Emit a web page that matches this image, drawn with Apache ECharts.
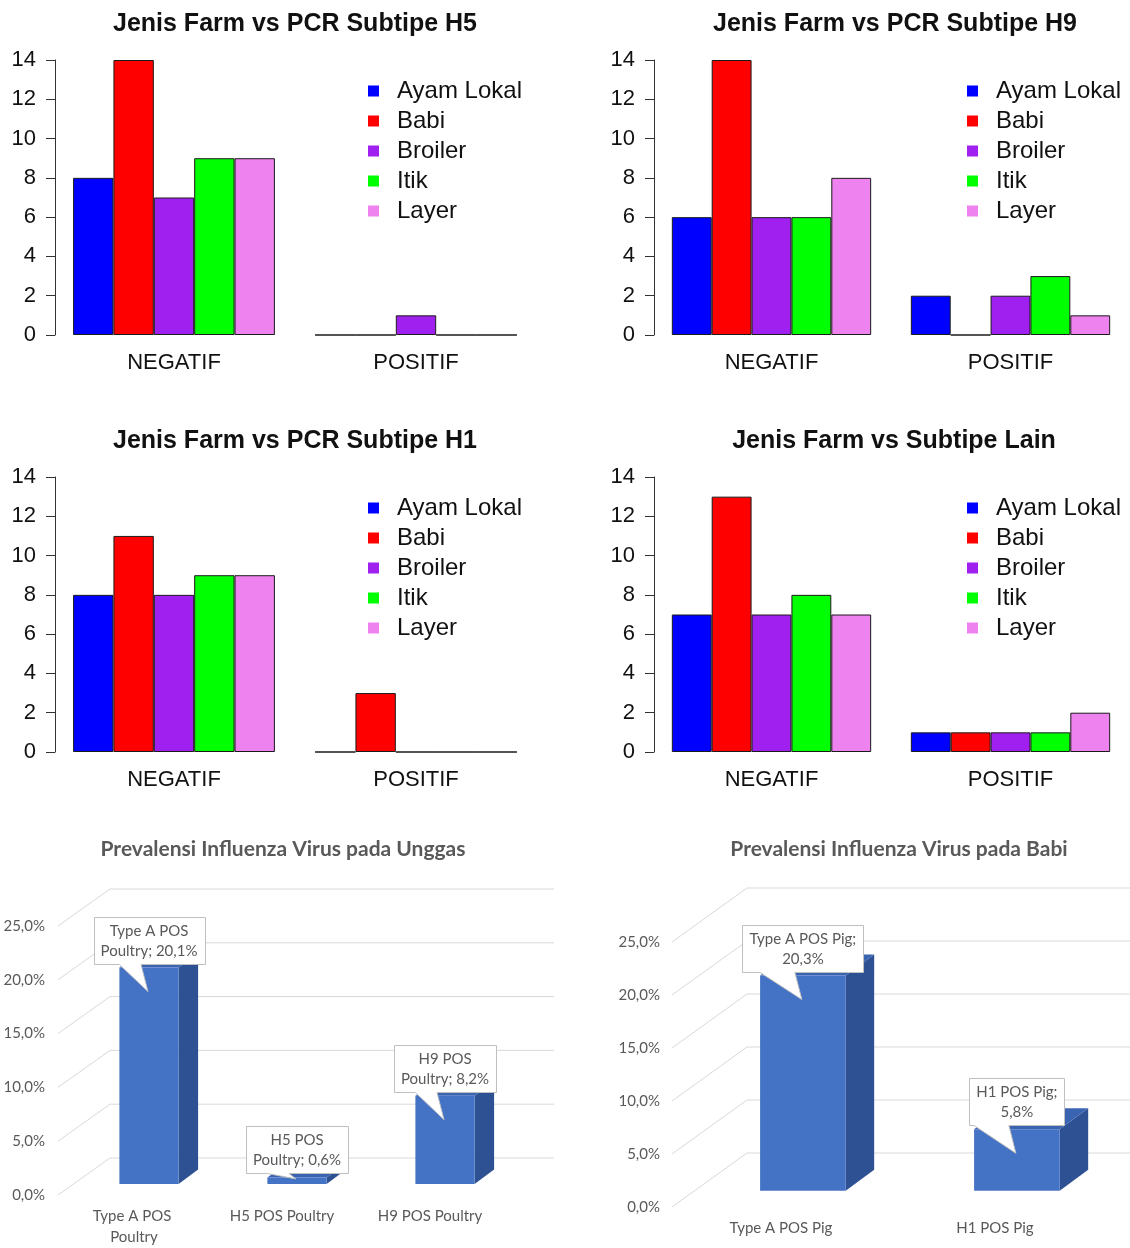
<!DOCTYPE html>
<html>
<head>
<meta charset="utf-8">
<script src="https://cdn.jsdelivr.net/npm/echarts@6/dist/echarts.min.js"></script>
<style>
  html, body { margin: 0; padding: 0; background: #ffffff; }
  #main { width: 1130px; height: 1248px; }
</style>
</head>
<body>
<div id="main"></div>
<script>
// ---- Farm type vs PCR result counts ----
const farmTypes = ['Ayam Lokal', 'Babi', 'Broiler', 'Itik', 'Layer'];
const farmColors = ['#0000FF', '#FF0000', '#A020F0', '#00FF00', '#EE82EE'];
const pcrResults = ['NEGATIF', 'POSITIF'];
const countTicks = [0, 2, 4, 6, 8, 10, 12, 14];

const h5Negatif = [8, 14, 7, 9, 9];
const h5Positif = [0, 0, 1, 0, 0];
const h9Negatif = [6, 14, 6, 6, 8];
const h9Positif = [2, 0, 2, 3, 1];
const h1Negatif = [8, 11, 8, 9, 9];
const h1Positif = [0, 3, 0, 0, 0];
const lainNegatif = [7, 13, 7, 8, 7];
const lainPositif = [1, 1, 1, 1, 2];

// ---- Influenza prevalence (%) ----
const poultryCategories = ['Type A POS Poultry', 'H5 POS Poultry', 'H9 POS Poultry'];
const poultryCallouts = ['Type A POS\nPoultry', 'H5 POS\nPoultry', 'H9 POS\nPoultry'];
const poultryPrevalence = [20.1, 0.6, 8.2];
const pigCategories = ['Type A POS Pig', 'H1 POS Pig'];
const pigCallouts = ['Type A POS Pig', 'H1 POS Pig'];
const pigPrevalence = [20.3, 5.8];
const prevalenceTicks = [0, 5, 10, 15, 20, 25];

const R_FONT = '"Liberation Sans", Arial, sans-serif';
const XL_FONT = 'Lato, "Liberation Sans", sans-serif';
const XL_GREY = '#595959';

const pct = v => v.toFixed(1).replace('.', ',') + '%';

const measureCtx = document.createElement('canvas').getContext('2d');
function textWidth(s, font) { measureCtx.font = font; return measureCtx.measureText(s).width; }

const chart = echarts.init(document.getElementById('main'), null, { renderer: 'canvas' });

const grids = [], xAxes = [], yAxes = [], series = [], titles = [], legends = [];

// ---------- grouped bar panels ----------
function farmPanel(title, negatif, positif, left, top, titleX) {
  const idx = grids.length;
  grids.push({ left: left, top: top, width: 484, height: 275 });
  xAxes.push({
    gridIndex: idx, type: 'category', data: pcrResults,
    axisLine: { show: false }, axisTick: { show: false },
    axisLabel: { fontFamily: R_FONT, fontSize: 22, color: '#111', margin: 17 }
  });
  yAxes.push({
    gridIndex: idx, type: 'value', min: countTicks[0], max: countTicks[countTicks.length - 1], interval: 2,
    offset: -2,
    axisLine: { show: true, lineStyle: { color: '#333', width: 1 } },
    axisTick: { show: true, length: 9, lineStyle: { color: '#333', width: 1 } },
    axisLabel: { fontFamily: R_FONT, fontSize: 22, color: '#111', margin: 19 },
    splitLine: { show: false }
  });
  farmTypes.forEach((name, i) => {
    series.push({
      type: 'bar', name: name, xAxisIndex: idx, yAxisIndex: idx,
      data: [negatif[i], positif[i]],
      barGap: '0%', barCategoryGap: '16.6%',
      itemStyle: { color: farmColors[i], borderColor: '#1a1a1a', borderWidth: 1 },
      emphasis: { disabled: true }, animation: false
    });
  });
  titles.push({
    text: title, left: titleX, top: top - 48, textAlign: 'center', padding: 0,
    textStyle: { fontFamily: R_FONT, fontSize: 25, fontWeight: 'bold', color: '#111' }
  });
  legends.push({
    data: farmTypes, orient: 'vertical', left: left + 310, top: top + 11,
    icon: 'rect', itemWidth: 11, itemHeight: 11, itemGap: 0, selectedMode: false,
    itemStyle: { borderWidth: 0 },
    textStyle: { fontFamily: R_FONT, fontSize: 24, color: '#111', lineHeight: 30, padding: [0, 0, 0, 13] }
  });
}

farmPanel('Jenis Farm vs PCR Subtipe H5', h5Negatif, h5Positif, 53, 60, 295);
farmPanel('Jenis Farm vs PCR Subtipe H9', h9Negatif, h9Positif, 652, 60, 895);
farmPanel('Jenis Farm vs PCR Subtipe H1', h1Negatif, h1Positif, 53, 477, 295);
farmPanel('Jenis Farm vs Subtipe Lain', lainNegatif, lainPositif, 652, 477, 894);

// ---------- 3D column panels ----------
const FRONT_T = 0.3;     // depth of the column front faces
const DEPTH_T = 0.39;    // column depth
const BAR_RATIO = 0.4;   // column width relative to category band
const CALLOUT_FONT = '15px ' + XL_FONT;
const CALLOUT_LINE = 20;

function columnPanel(title, categories, values, callouts, sep, opts) {
  const idx = grids.length;
  const depth = opts.depth;
  grids.push({ left: opts.left, top: opts.top, width: opts.width, height: opts.height });
  xAxes.push({
    gridIndex: idx, type: 'category', data: categories,
    axisLine: { show: false }, axisTick: { show: false },
    axisLabel: {
      fontFamily: XL_FONT, fontSize: 15, color: XL_GREY, margin: 11,
      width: 112, overflow: 'break', lineHeight: 21, interval: 0
    }
  });
  yAxes.push({
    gridIndex: idx, type: 'value', min: 0, max: 25, interval: 5,
    axisLine: { show: false }, axisTick: { show: false }, splitLine: { show: false },
    axisLabel: { fontFamily: XL_FONT, fontSize: 15, color: XL_GREY, margin: opts.labelMargin, formatter: v => pct(v) }
  });

  // floor / back-wall gridlines
  series.push({
    type: 'custom', xAxisIndex: idx, yAxisIndex: idx, z: 1, silent: true, animation: false,
    data: prevalenceTicks.map(v => [0, v]), encode: { x: 0, y: 1 },
    renderItem(params, api) {
      const y = api.coord([0, api.value(1)])[1];
      const cs = params.coordSys;
      return {
        type: 'polyline',
        shape: { points: [[cs.x - 2, y], [cs.x + depth.dx, y - depth.dy], [cs.x + cs.width + depth.dx, y - depth.dy]] },
        style: { stroke: '#d9d9d9', lineWidth: 1, fill: null }
      };
    }
  });

  function geom(api) {
    const i = api.value(0), v = api.value(1);
    const base = api.coord([i, 0]);
    const top = api.coord([i, v]);
    const w = api.size([1, 0])[0] * BAR_RATIO;
    const xl = base[0] - w / 2 + depth.dx * FRONT_T;
    const yb = base[1] - depth.dy * FRONT_T;
    const yt = top[1] - depth.dy * FRONT_T;
    return { xl, xr: xl + w, yb, yt, w, v, i };
  }

  // columns
  series.push({
    type: 'custom', xAxisIndex: idx, yAxisIndex: idx, z: 3, silent: true, animation: false,
    data: values.map((v, i) => [i, v]), encode: { x: 0, y: 1 },
    renderItem(params, api) {
      const g = geom(api);
      const ex = depth.dx * DEPTH_T, ey = depth.dy * DEPTH_T;
      return {
        type: 'group', children: [
          { type: 'polygon', shape: { points: [[g.xr, g.yt], [g.xr + ex, g.yt - ey], [g.xr + ex, g.yb - ey], [g.xr, g.yb]] }, style: { fill: '#2E5193' } },
          { type: 'polygon', shape: { points: [[g.xl, g.yt], [g.xl + ex, g.yt - ey], [g.xr + ex, g.yt - ey], [g.xr, g.yt]] }, style: { fill: '#3A64B2' } },
          { type: 'rect', shape: { x: g.xl, y: g.yt, width: g.w, height: g.yb - g.yt }, style: { fill: '#4472C4' } }
        ]
      };
    }
  });

  // data callouts
  series.push({
    type: 'custom', xAxisIndex: idx, yAxisIndex: idx, z: 5, silent: true, animation: false,
    data: values.map((v, i) => [i, v]), encode: { x: 0, y: 1 },
    renderItem(params, api) {
      const g = geom(api);
      const text = callouts[g.i] + sep + pct(g.v);
      const lines = text.split('\n');
      const tw = Math.max.apply(null, lines.map(s => textWidth(s, CALLOUT_FONT)));
      const bw = Math.round(tw + 14), bh = lines.length * CALLOUT_LINE + 7;
      const cx = (g.xl + g.xr) / 2;
      const bx = Math.round(cx - bw / 2) + 0.5;
      const bBot = Math.round(g.yt - 4) + 0.5, bTop = bBot - bh;
      const tip = [cx - 1, Math.min(g.yt + 24, g.yb - 5)];
      const pl = Math.max(bx + 4, cx - g.w * 0.5), pr = cx - 8;
      return {
        type: 'group', children: [
          {
            type: 'polygon',
            shape: { points: [[bx, bTop], [bx + bw, bTop], [bx + bw, bBot], [pr, bBot], tip, [pl, bBot], [bx, bBot]] },
            style: { fill: '#ffffff', stroke: '#bfbfbf', lineWidth: 1 }
          },
          {
            type: 'text',
            style: {
              text: text, x: cx, y: bTop + 4, align: 'center', verticalAlign: 'top',
              font: CALLOUT_FONT, fill: XL_GREY, lineHeight: CALLOUT_LINE
            }
          }
        ]
      };
    }
  });

  titles.push({
    text: title, left: opts.titleX, top: 839, textAlign: 'center', padding: 0,
    textStyle: { fontFamily: XL_FONT, fontSize: 21, fontWeight: 'bold', color: XL_GREY }
  });
}

columnPanel('Prevalensi Influenza Virus pada Unggas', poultryCategories, poultryPrevalence, poultryCallouts, '; ',
  { left: 60, top: 926, width: 444, height: 270, depth: { dx: 50, dy: 37 }, labelMargin: 15, titleX: 283 });
columnPanel('Prevalensi Influenza Virus pada Babi', pigCategories, pigPrevalence, pigCallouts, ';\n',
  { left: 674, top: 942, width: 428, height: 265, depth: { dx: 73, dy: 54 }, labelMargin: 14, titleX: 899 });

chart.setOption({
  backgroundColor: '#ffffff',
  animation: false,
  title: titles,
  legend: legends,
  grid: grids,
  xAxis: xAxes,
  yAxis: yAxes,
  series: series
});
</script>
</body>
</html>
